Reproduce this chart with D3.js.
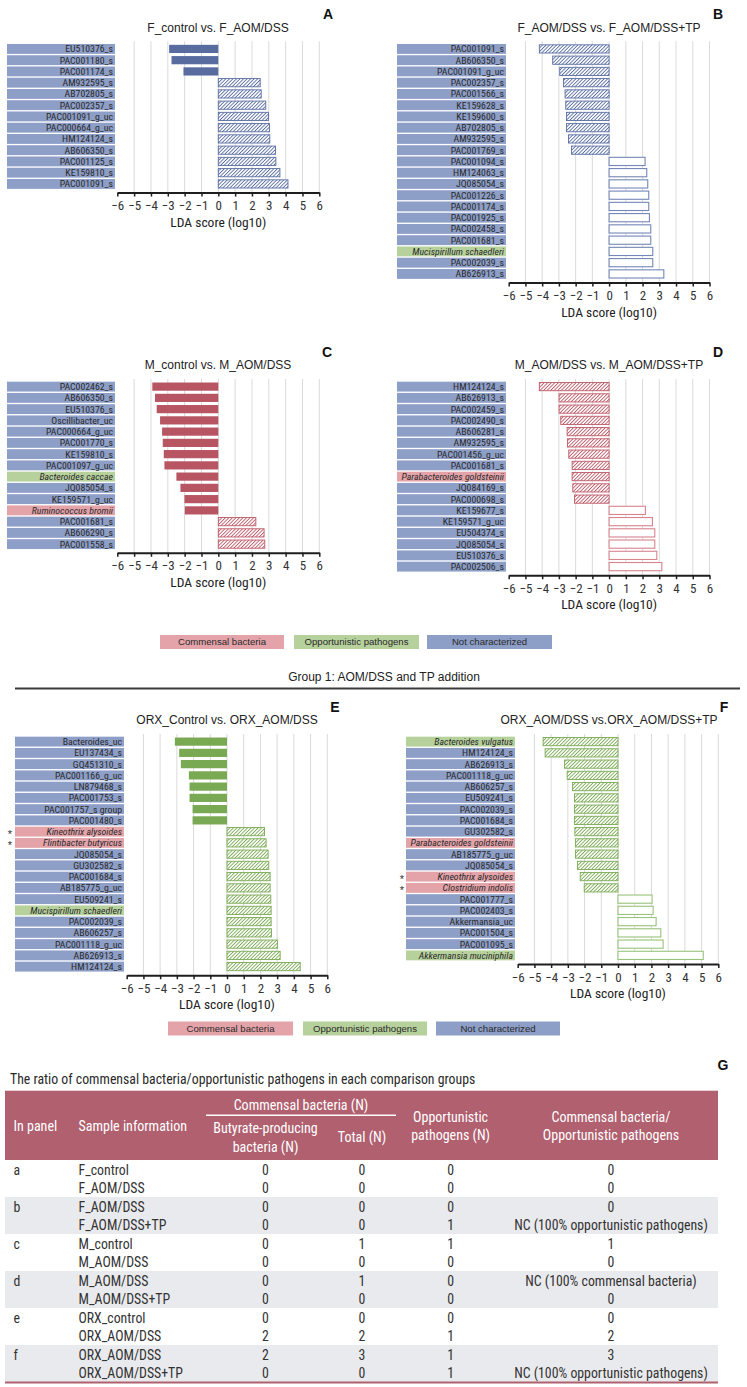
<!DOCTYPE html>
<html><head><meta charset="utf-8">
<script src="https://cdn.jsdelivr.net/npm/d3@7"></script>
<style>
body{margin:0;background:#fff}
.nar{font-family:"Liberation Sans Narrow","Arial Narrow","Roboto Condensed","DejaVu Sans Condensed",sans-serif}
.reg{font-family:"Liberation Sans",Arial,sans-serif}
</style>
</head><body><svg id="c" width="747" height="1387" xmlns="http://www.w3.org/2000/svg"></svg>
<script>
// ---------------- DATA ----------------
const aLabels = ["EU510376_s","PAC001180_s","PAC001174_s","AM932595_s","AB702805_s","PAC002357_s","PAC001091_g_uc","PAC000664_g_uc","HM124124_s","AB606350_s","PAC001125_s","KE159810_s","PAC001091_s"];
const aValues = [-2.92,-2.78,-2.07,2.49,2.55,2.82,2.98,3.04,3.06,3.40,3.42,3.66,4.14];
const aTypes  = ["n","n","n","n","n","n","n","n","n","n","n","n","n"];

const bLabels = ["PAC001091_s","AB606350_s","PAC001091_g_uc","PAC002357_s","PAC001566_s","KE159628_s","KE159600_s","AB702805_s","AM932595_s","PAC001769_s","PAC001094_s","HM124063_s","JQ085054_s","PAC001226_s","PAC001174_s","PAC001925_s","PAC002458_s","PAC001681_s","Mucispirillum schaedleri","PAC002039_s","AB626913_s"];
const bValues = [-4.17,-3.37,-2.95,-2.73,-2.63,-2.59,-2.55,-2.55,-2.43,-2.25,2.15,2.25,2.31,2.37,2.37,2.41,2.49,2.49,2.61,2.61,3.27];
const bTypes  = ["n","n","n","n","n","n","n","n","n","n","n","n","n","n","n","n","n","n","o","n","n"];

const cLabels = ["PAC002462_s","AB606350_s","EU510376_s","Oscillibacter_uc","PAC000664_g_uc","PAC001770_s","KE159810_s","PAC001097_g_uc","Bacteroides caccae","JQ085054_s","KE159571_g_uc","Ruminococcus bromii","PAC001681_s","AB606290_s","PAC001558_s"];
const cValues = [-3.92,-3.76,-3.66,-3.46,-3.34,-3.30,-3.24,-3.20,-2.49,-2.25,-2.01,-1.99,2.23,2.72,2.76];
const cTypes  = ["n","n","n","n","n","n","n","n","o","n","n","c","n","n","n"];

const dLabels = ["HM124124_s","AB626913_s","PAC002459_s","PAC002490_s","AB606281_s","AM932595_s","PAC001456_g_uc","PAC001681_s","Parabacteroides goldsteinii","JQ084169_s","PAC000698_s","KE159677_s","KE159571_g_uc","EU504374_s","JQ085054_s","EU510376_s","PAC002506_s"];
const dValues = [-4.17,-2.99,-2.99,-2.89,-2.51,-2.49,-2.41,-2.21,-2.21,-2.17,-2.07,2.17,2.59,2.73,2.73,2.85,3.15];
const dTypes  = ["n","n","n","n","n","n","n","n","c","n","n","n","n","n","n","n","n"];

const eLabels = ["Bacteroides_uc","EU137434_s","GQ451310_s","PAC001166_g_uc","LN879468_s","PAC001753_s","PAC001757_s group","PAC001480_s","Kineothrix alysoides","Flintibacter butyricus","JQ085054_s","GU302582_s","PAC001684_s","AB185775_g_uc","EU509241_s","Mucispirillum schaedleri","PAC002039_s","AB606257_s","PAC001118_g_uc","AB626913_s","HM124124_s"];
const eValues = [-3.12,-2.86,-2.76,-2.28,-2.24,-2.24,-2.06,-2.06,2.24,2.34,2.46,2.50,2.58,2.58,2.62,2.64,2.64,2.66,3.02,3.18,4.38];
const eTypes  = ["n","n","n","n","n","n","n","n","c","c","n","n","n","n","n","o","n","n","n","n","n"];
const eStars  = ["Kineothrix alysoides","Flintibacter butyricus"];

const fLabels = ["Bacteroides vulgatus","HM124124_s","AB626913_s","PAC001118_g_uc","AB606257_s","EU509241_s","PAC002039_s","PAC001684_s","GU302582_s","Parabacteroides goldsteinii","AB185775_g_uc","JQ085054_s","Kineothrix alysoides","Clostridium indolis","PAC001777_s","PAC002403_s","Akkermansia_uc","PAC001504_s","PAC001095_s","Akkermansia muciniphila"];
const fValues = [-4.48,-4.36,-3.20,-3.04,-2.72,-2.60,-2.60,-2.60,-2.58,-2.54,-2.54,-2.42,-2.26,-2.02,2.04,2.10,2.28,2.56,2.70,5.10];
const fTypes  = ["o","n","n","n","n","n","n","n","n","c","n","n","c","c","n","n","n","n","n","o"];
const fStars  = ["Kineothrix alysoides","Clostridium indolis"];

const ldaTicks = [-6,-5,-4,-3,-2,-1,0,1,2,3,4,5,6];
const legendLabels = ["Commensal bacteria","Opportunistic pathogens","Not characterized"];
const legendTypes = ["c","o","n"];

const tblPanel   = ["a","","b","","c","","d","","e","","f",""];
const tblSample  = ["F_control","F_AOM/DSS","F_AOM/DSS","F_AOM/DSS+TP","M_control","M_AOM/DSS","M_AOM/DSS","M_AOM/DSS+TP","ORX_control","ORX_AOM/DSS","ORX_AOM/DSS","ORX_AOM/DSS+TP"];
const tblButyrate= [0,0,0,0,0,0,0,0,0,2,2,0];
const tblTotal   = [0,0,0,0,1,0,1,0,0,2,3,0];
const tblOpp     = [0,0,0,1,1,0,0,0,0,1,1,1];
const tblRatio   = ["0","0","0","NC (100% opportunistic pathogens)","1","0","NC (100% commensal bacteria)","0","0","2","3","NC (100% opportunistic pathogens)"];

// ---------------- STYLE ----------------
const typeColor = {n:"#8d9ec7", o:"#b7d19d", c:"#e4a3a9"};
const pal = {
  blue:  {solid:"#596c9f", hatch:"#5a6ea3", open:"#7487b8"},
  red:   {solid:"#b85563", hatch:"#be5a68", open:"#d8848f"},
  green: {solid:"#79a952", hatch:"#7aaa53", open:"#99c37a"}
};
const PITCH = 11.25;
const svg = d3.select("#c");
svg.append("rect").attr("width",747).attr("height",1387).attr("fill","#fff");
const defs = svg.append("defs");
Object.entries(pal).forEach(([k,v])=>{
  const p = defs.append("pattern").attr("id","h-"+k).attr("patternUnits","userSpaceOnUse")
    .attr("width",2.5).attr("height",2.5).attr("patternTransform","rotate(45)");
  p.append("rect").attr("width",2.5).attr("height",2.5).attr("fill","#fff");
  p.append("line").attr("x1",0).attr("y1",0).attr("x2",0).attr("y2",2.5)
    .attr("stroke",v.hatch).attr("stroke-width",1.8);
});

function drawPanel(cfg, labels, values, types, stars){
  const n = labels.length;
  const y = d3.scaleBand().domain(d3.range(n)).range([cfg.top, cfg.top + n*PITCH]).paddingInner(0.12).paddingOuter(0.06);
  const x = d3.scaleLinear().domain([-6,6]).range(cfg.ax);
  const axisY = cfg.top + n*PITCH + 3;
  const g = svg.append("g");
  const col = pal[cfg.color];

  g.append("text").attr("class","reg").attr("x",cfg.title[0]).attr("y",cfg.title[1]).attr("dy","0.35em")
    .attr("text-anchor","middle").attr("font-size",12).attr("fill","#222").text(cfg.titleText);
  g.append("text").attr("class","reg").attr("x",cfg.letter[0]).attr("y",cfg.letter[1]).attr("dy","0.35em")
    .attr("text-anchor","middle").attr("font-size",14).attr("font-weight","bold").attr("fill","#111").text(cfg.id);

  g.selectAll("line.grid").data(ldaTicks.filter(t=>t>-6)).join("line").attr("class","grid")
    .attr("x1",d=>x(d)).attr("x2",d=>x(d)).attr("y1",cfg.top-2).attr("y2",axisY)
    .attr("stroke","#dadada").attr("stroke-width",1);

  g.selectAll("rect.lab").data(labels).join("rect").attr("class","lab")
    .attr("x",cfg.lx[0]).attr("width",cfg.lx[1]-cfg.lx[0])
    .attr("y",(d,i)=>y(i)).attr("height",y.bandwidth())
    .attr("fill",(d,i)=>typeColor[types[i]]);
  g.selectAll("text.lab").data(labels).join("text").attr("class","lab nar")
    .attr("x",cfg.lx[1]-2).attr("y",(d,i)=>y(i)+y.bandwidth()/2).attr("dy","0.36em")
    .attr("text-anchor","end").attr("font-size",9.8).attr("fill","#2a2a2a")
    .attr("font-style",(d,i)=>types[i]==="n"?"normal":"italic").text(d=>d);

  if(stars){
    g.selectAll("text.star").data(labels.map((d,i)=>[d,i]).filter(d=>stars.includes(d[0]))).join("text").attr("class","star reg")
      .attr("x",cfg.starX).attr("y",d=>y(d[1])+y.bandwidth()/2).attr("dy","0.55em")
      .attr("text-anchor","middle").attr("font-size",11).attr("fill","#333").text("*");
  }

  const bh = 8.2;
  g.selectAll("rect.bar").data(values).join("rect").attr("class","bar")
    .attr("x",d=>x(Math.min(0,d))).attr("width",d=>Math.abs(x(d)-x(0)))
    .attr("y",(d,i)=>y(i)+y.bandwidth()/2-bh/2).attr("height",bh)
    .each(function(d){
      const st = d<0 ? cfg.neg : cfg.pos;
      const s = d3.select(this);
      if(st==="solid") s.attr("fill",col.solid);
      else if(st==="hatch") s.attr("fill","url(#h-"+cfg.color+")").attr("stroke",col.hatch).attr("stroke-width",0.9);
      else s.attr("fill","#fff").attr("stroke",col.open).attr("stroke-width",1.1);
    });

  const ax = g.append("g").attr("transform",`translate(0,${axisY})`)
    .call(d3.axisBottom(x).tickValues(ldaTicks).tickSizeOuter(0).tickSizeInner(4).tickPadding(4.5).tickFormat(d3.format("d")));
  ax.select(".domain").attr("stroke","#1e1e1e").attr("stroke-width",2);
  ax.selectAll(".tick line").attr("stroke","#1e1e1e").attr("stroke-width",1.5);
  ax.selectAll(".tick text").attr("class","nar").attr("font-size",13).attr("fill","#333");
  g.append("text").attr("class","nar").attr("x",(cfg.ax[0]+cfg.ax[1])/2).attr("y",axisY+29.5).attr("dy","0.35em")
    .attr("text-anchor","middle").attr("font-size",13.5).attr("fill","#222").text("LDA score (log10)");
}

drawPanel({id:"A",titleText:"F_control vs. F_AOM/DSS",title:[218,28],letter:[328,14],lx:[7,115],ax:[117.3,319.3],top:43.3,color:"blue",neg:"solid",pos:"hatch"},aLabels,aValues,aTypes);
drawPanel({id:"B",titleText:"F_AOM/DSS vs. F_AOM/DSS+TP",title:[609,28],letter:[718,14],lx:[397,506],ax:[508.7,709.5],top:43.3,color:"blue",neg:"hatch",pos:"open"},bLabels,bValues,bTypes);
drawPanel({id:"C",titleText:"M_control vs. M_AOM/DSS",title:[218,365],letter:[327,352],lx:[7,115],ax:[117.3,319.3],top:381,color:"red",neg:"solid",pos:"hatch"},cLabels,cValues,cTypes);
drawPanel({id:"D",titleText:"M_AOM/DSS vs. M_AOM/DSS+TP",title:[609,365],letter:[718,352],lx:[397,506],ax:[508.7,709.5],top:381,color:"red",neg:"hatch",pos:"open"},dLabels,dValues,dTypes);
drawPanel({id:"E",titleText:"ORX_Control vs. ORX_AOM/DSS",title:[227,720],letter:[335,707],lx:[15,124],ax:[126.7,327.3],top:736,color:"green",neg:"solid",pos:"hatch",starX:10},eLabels,eValues,eTypes,eStars);
drawPanel({id:"F",titleText:"ORX_AOM/DSS vs.ORX_AOM/DSS+TP",title:[609,720],letter:[724,707],lx:[406,515],ax:[517.7,718.3],top:736,color:"green",neg:"hatch",pos:"open",starX:402},fLabels,fValues,fTypes,fStars);

// legends
function drawLegend(xs, yc){
  const g = svg.append("g");
  g.selectAll("rect").data(legendLabels).join("rect")
    .attr("x",(d,i)=>xs[i][0]).attr("width",(d,i)=>xs[i][1]-xs[i][0]).attr("y",yc-7).attr("height",14)
    .attr("fill",(d,i)=>typeColor[legendTypes[i]]);
  g.selectAll("text").data(legendLabels).join("text").attr("class","reg")
    .attr("x",(d,i)=>(xs[i][0]+xs[i][1])/2).attr("y",yc).attr("dy","0.36em")
    .attr("text-anchor","middle").attr("font-size",9.6).attr("fill","#2a2a2a").text(d=>d);
}
drawLegend([[160,284],[294,419],[427,552]],642);
drawLegend([[168,293],[303,427],[436,560]],1028.5);

svg.append("text").attr("class","reg").attr("x",384).attr("y",677).attr("dy","0.35em").attr("text-anchor","middle")
  .attr("font-size",12).attr("fill","#222").text("Group 1: AOM/DSS and TP addition");
svg.append("line").attr("x1",15).attr("x2",740).attr("y1",688.5).attr("y2",688.5).attr("stroke","#3a3a3a").attr("stroke-width",2.2);

// ---------------- TABLE ----------------
const T = svg.append("g");
T.append("text").attr("class","nar").attr("x",10).attr("y",1079).attr("dy","0.35em").attr("font-size",13.8).attr("fill","#2a2a2a")
  .text("The ratio of commensal bacteria/opportunistic pathogens in each comparison groups");
T.append("text").attr("class","reg").attr("x",723).attr("y",1065).attr("dy","0.35em").attr("text-anchor","middle")
  .attr("font-size",14).attr("font-weight","bold").attr("fill","#111").text("G");
const hdrTop = 1090.7, hdrBot = 1160, rowH = 18.5, tx0 = 5, tx1 = 718;
T.append("rect").attr("x",tx0).attr("y",hdrTop).attr("width",tx1-tx0).attr("height",hdrBot-hdrTop).attr("fill","#b0606f");
const rowIdx = d3.range(tblSample.length);
const yRow = d3.scaleBand().domain(rowIdx).range([hdrBot, hdrBot + rowIdx.length*rowH]);
T.selectAll("rect.grp").data(rowIdx.filter(i=>i%4===2)).join("rect").attr("class","grp")
  .attr("x",tx0).attr("width",tx1-tx0).attr("y",i=>yRow(i)).attr("height",rowH*2).attr("fill","#e9eaed");
T.append("line").attr("x1",tx0).attr("x2",tx1).attr("y1",hdrBot+rowIdx.length*rowH+0.5).attr("y2",hdrBot+rowIdx.length*rowH+0.5)
  .attr("stroke","#b0606f").attr("stroke-width",2);

const hdr = [
  ["In panel",13.5,1126,"start"],["Sample information",78.5,1126,"start"],
  ["Commensal bacteria (N)",301,1105,"middle"],
  ["Butyrate-producing",265.5,1128.3,"middle"],["bacteria (N)",265.5,1146.7,"middle"],
  ["Total (N)",362,1137.3,"middle"],
  ["Opportunistic",450.6,1116.7,"middle"],["pathogens (N)",450.6,1135,"middle"],
  ["Commensal bacteria/",611,1116.7,"middle"],["Opportunistic pathogens",611,1135,"middle"]
];
T.selectAll("text.hdr").data(hdr).join("text").attr("class","hdr nar")
  .attr("x",d=>d[1]).attr("y",d=>d[2]).attr("dy","0.35em").attr("text-anchor",d=>d[3])
  .attr("font-size",14).attr("fill","#fff").text(d=>d[0]);
T.append("line").attr("x1",206).attr("x2",396).attr("y1",1115.3).attr("y2",1115.3).attr("stroke","#fff").attr("stroke-width",1.6);

const cols = [
  [tblPanel,13.5,"start"],[tblSample,78.5,"start"],[tblButyrate,265.5,"middle"],
  [tblTotal,362,"middle"],[tblOpp,450.6,"middle"],[tblRatio,611,"middle"]
];
cols.forEach(([arr,cx,anc])=>{
  T.append("g").selectAll("text").data(arr).join("text").attr("class","nar")
    .attr("x",cx).attr("y",(d,i)=>yRow(i)+rowH/2+0.5).attr("dy","0.35em").attr("text-anchor",anc)
    .attr("font-size",13.8).attr("fill","#333").text(d=>d);
});
</script></body></html>
